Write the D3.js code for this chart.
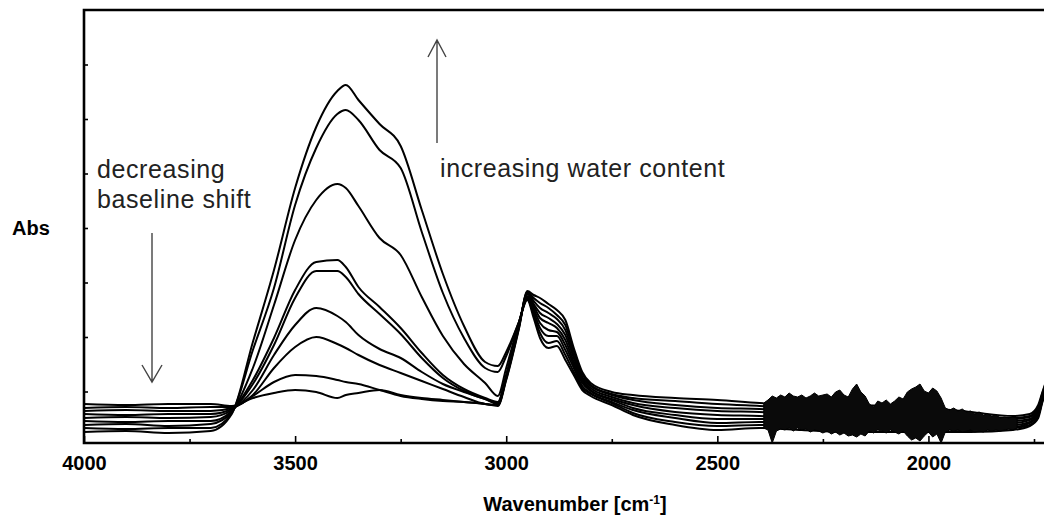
<!DOCTYPE html>
<html>
<head>
<meta charset="utf-8">
<script src="https://cdn.jsdelivr.net/npm/d3@7"></script>
<style>
  html, body { margin: 0; padding: 0; background: #fff; }
  svg { display: block; }
</style>
</head>
<body>
<svg id="chart" width="1044" height="520"></svg>
<script>
// wavenumber grid (cm-1) shared by the spectra
const wavenumbers = [4000, 3900, 3800, 3700, 3650, 3600, 3550, 3500, 3450, 3400, 3380, 3350, 3300, 3250, 3200, 3150,
    3100, 3050, 3020, 3000, 2970, 2950, 2935, 2920, 2900, 2880, 2860, 2840, 2820, 2800, 2750, 2700, 2600, 2500,
    2400, 2300, 2200, 2100, 2000, 1900, 1800, 1760, 1740, 1730, 1722];

// absorbance in mAbs, highest water content first
const absA = [14, 15, 13, 15, 32, 104, 176, 258, 319, 355, 361, 346, 322, 300, 236, 172, 120, 84, 80, 94, 124, 146, 128, 108, 98, 100, 86, 71, 56, 50, 41, 31, 21, 16, 18, 16, 14, 14, 14, 14, 16, 20, 28, 44, 54];
const absB = [18, 17, 18, 18, 33, 96, 158, 241, 298, 332, 336, 326, 296, 278, 214, 153, 108, 78, 74, 90, 124, 147, 131, 113, 103, 105, 91, 74, 58, 52, 43, 33, 24, 20, 21, 19, 17, 17, 17, 16, 18, 21, 30, 45, 55];
const absC = [21, 22, 20, 22, 34, 78, 141, 206, 246, 262, 258, 240, 208, 191, 149, 110, 82, 63, 50, 78, 123, 148, 134, 118, 110, 110, 96, 78, 60, 53, 44, 36, 28, 23, 24, 22, 21, 20, 20, 19, 19, 23, 31, 46, 56];
const absD = [25, 24, 25, 25, 35, 66, 108, 156, 184, 186, 179, 159, 139, 118, 93, 71, 57, 48, 44, 71, 122, 149, 137, 123, 116, 114, 101, 81, 63, 55, 46, 38, 31, 27, 27, 25, 24, 24, 23, 21, 21, 24, 33, 48, 58];
const absE = [28, 29, 28, 29, 36, 62, 101, 148, 175, 175, 169, 152, 132, 112, 88, 68, 55, 47, 43, 70, 121, 150, 140, 128, 123, 118, 106, 84, 65, 56, 47, 41, 34, 31, 30, 28, 27, 27, 26, 24, 23, 26, 34, 49, 59];
const absF = [32, 31, 32, 32, 37, 56, 91, 121, 138, 130, 124, 111, 97, 88, 74, 62, 54, 47, 42, 69, 120, 152, 142, 133, 128, 122, 111, 88, 67, 58, 49, 43, 38, 35, 34, 32, 31, 30, 29, 26, 25, 27, 36, 50, 60];
const absG = [35, 36, 35, 35, 38, 51, 78, 99, 109, 102, 98, 91, 81, 73, 65, 57, 49, 42, 41, 68, 119, 153, 145, 138, 133, 127, 116, 91, 69, 60, 51, 46, 41, 38, 37, 35, 34, 33, 32, 29, 27, 29, 38, 51, 61];
const absH = [38, 39, 38, 39, 39, 50, 64, 71, 70, 66, 64, 62, 56, 50, 47, 45, 44, 42, 41, 67, 118, 154, 148, 143, 138, 131, 121, 95, 72, 61, 52, 48, 45, 42, 40, 38, 38, 37, 35, 31, 28, 30, 39, 53, 63];
const absI = [42, 41, 42, 42, 40, 48, 53, 56, 54, 48, 51, 53, 56, 51, 48, 46, 44, 42, 40, 66, 117, 155, 151, 148, 142, 136, 126, 98, 74, 63, 54, 51, 48, 46, 43, 41, 41, 40, 38, 34, 30, 32, 41, 54, 64];
const spectra = [absA, absB, absC, absD, absE, absF, absG, absH, absI];

// noisy stretch 2390-1790 cm-1: upper and lower edge of the bundle (mAbs)
const noiseWn = [2390, 2380, 2370, 2360, 2350, 2340, 2330, 2320, 2310, 2300, 2290, 2280, 2270, 2260, 2250, 2240,
    2230, 2220, 2210, 2200, 2190, 2180, 2170, 2160, 2150, 2140, 2130, 2120, 2110, 2100, 2090, 2080, 2070, 2060,
    2050, 2040, 2030, 2020, 2010, 2000, 1990, 1980, 1970, 1960, 1950, 1940, 1930, 1920, 1910, 1900, 1890, 1880,
    1870, 1860, 1850, 1840, 1830, 1820, 1810, 1800, 1790];
const noiseHi = [43, 46, 50, 48, 51, 49, 53, 50, 49, 51, 48, 50, 53, 50, 51, 52, 49, 54, 56, 51, 49, 57, 62, 54, 50, 42, 39, 45, 43, 46, 42, 45, 49, 47, 54, 57, 59, 62, 55, 53, 58, 55, 48, 38, 36, 38, 35, 37, 34, 35, 32, 34, 31, 32, 30, 31, 28, 29, 28, 29, 28];
const noiseLo = [18, 16, 3, 15, 17, 16, 18, 15, 18, 16, 17, 14, 16, 15, 13, 15, 12, 14, 11, 13, 10, 11, 9, 12, 10, 15, 13, 16, 15, 13, 16, 14, 12, 15, 10, 6, 8, 5, 10, 14, 9, 12, 3, 14, 16, 15, 16, 14, 15, 16, 14, 15, 14, 16, 15, 16, 15, 16, 17, 16, 18];

const xMajor = [4000, 3500, 3000, 2500, 2000];
const xMinor = [3750, 3250, 2750, 2250, 1750];
const yTicks = [54.5, 109, 163.5, 218, 272.5, 327, 381.5];

let svg = d3.select('#chart');

let x = d3.scaleLinear().domain([4000, 1750]).range([84, 1034]);
let y = d3.scaleLinear().domain([3, 436]).range([443, 10]);

let plotLeft = 84, plotTop = 10, plotBottom = 443, plotRight = 1050;

svg.append("defs").append("clipPath")
    .attr("id", "plot-clip")
    .append("rect")
    .attr("x", plotLeft).attr("y", plotTop)
    .attr("width", plotRight - plotLeft).attr("height", plotBottom - plotTop);

// spectra
let line = d3.line()
    .x((d, i) => x(wavenumbers[i]))
    .y(d => y(d))
    .curve(d3.curveMonotoneX);

let curves = svg.append("g").attr("clip-path", "url(#plot-clip)");

curves.selectAll("path.spectrum")
    .data(spectra)
    .enter().append("path")
    .attr("class", "spectrum")
    .attr("d", line)
    .attr("fill", "none")
    .attr("stroke", "#000")
    .attr("stroke-width", 2)
    .attr("stroke-linejoin", "round");

// noise band
let band = d3.area()
    .x((d, i) => x(noiseWn[i]))
    .y0((d, i) => y(noiseLo[i]))
    .y1(d => y(d))
    .curve(d3.curveLinear);

curves.append("path")
    .datum(noiseHi)
    .attr("d", band)
    .attr("fill", "#0a0a0a")
    .attr("stroke", "#000")
    .attr("stroke-width", 1);

// axes, ticks pointing into the plot
let xAxis = svg.append("g")
    .attr("transform", `translate(0,${plotBottom})`)
    .call(d3.axisBottom(x).tickValues(xMajor).tickSizeInner(-7).tickSizeOuter(0).tickPadding(13).tickFormat(d3.format("d")));
xAxis.select(".domain").remove();
xAxis.selectAll("line").attr("stroke", "#000").attr("stroke-width", 1.6);
xAxis.selectAll("text")
    .attr("fill", "#000")
    .style("font-family", "'Liberation Sans', Arial, sans-serif")
    .style("font-weight", "bold")
    .style("font-size", "20px");

let xMinorAxis = svg.append("g")
    .attr("transform", `translate(0,${plotBottom})`)
    .call(d3.axisBottom(x).tickValues(xMinor).tickSizeInner(-4).tickSizeOuter(0).tickFormat(""));
xMinorAxis.select(".domain").remove();
xMinorAxis.selectAll("line").attr("stroke", "#000").attr("stroke-width", 1.6);

let yAxis = svg.append("g")
    .attr("transform", `translate(${plotLeft},0)`)
    .call(d3.axisLeft(y).tickValues(yTicks).tickSizeInner(-4).tickSizeOuter(0).tickFormat(""));
yAxis.select(".domain").remove();
yAxis.selectAll("line").attr("stroke", "#000").attr("stroke-width", 1.6);

// frame (right side runs off the picture)
svg.append("path")
    .attr("d", `M${plotRight},${plotTop}H${plotLeft}V${plotBottom}H${plotRight}`)
    .attr("fill", "none")
    .attr("stroke", "#000")
    .attr("stroke-width", 2.6);

// axis titles
svg.append("text")
    .attr("x", 12).attr("y", 235)
    .style("font-family", "'Liberation Sans', Arial, sans-serif")
    .style("font-weight", "bold")
    .style("font-size", "20px")
    .text("Abs");

let xTitle = svg.append("text")
    .attr("x", 575).attr("y", 511)
    .attr("text-anchor", "middle")
    .style("font-family", "'Liberation Sans', Arial, sans-serif")
    .style("font-weight", "bold")
    .style("font-size", "20px");
xTitle.append("tspan").text("Wavenumber [cm");
xTitle.append("tspan").attr("dy", -7).style("font-size", "12px").text("-1");
xTitle.append("tspan").attr("dy", 7).text("]");

// annotations
let note = svg.append("g")
    .style("font-family", "'Liberation Sans', Arial, sans-serif")
    .style("font-size", "25px")
    .style("letter-spacing", "0.6px")
    .attr("fill", "#222");
note.append("text").attr("x", 97).attr("y", 178).text("decreasing");
note.append("text").attr("x", 97).attr("y", 208).text("baseline shift");
note.append("text").attr("x", 440).attr("y", 177).text("increasing water content");

let arrows = svg.append("g")
    .attr("fill", "none")
    .attr("stroke", "#444")
    .attr("stroke-width", 1.4);
arrows.append("path").attr("d", "M152,233V382M142,365L152,382L162,365");
arrows.append("path").attr("d", "M437,143V40M428,57L437,40L446,57");
</script>
</body>
</html>
